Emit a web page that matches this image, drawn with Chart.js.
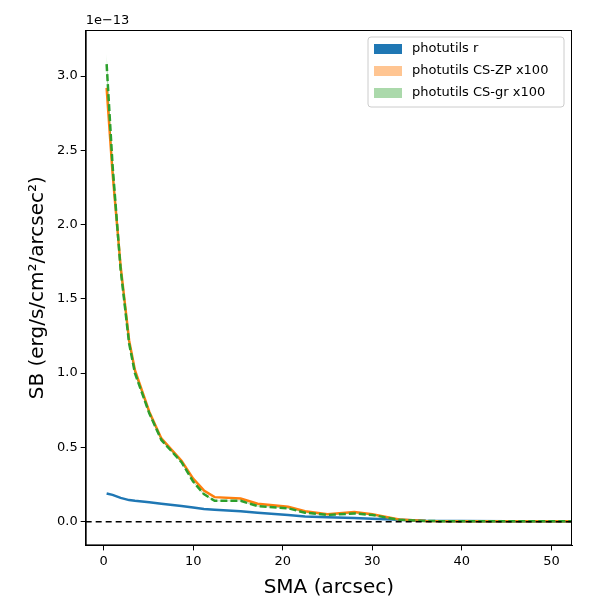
<!DOCTYPE html>
<html>
<head>
<script src="https://cdn.jsdelivr.net/npm/chart.js@4"></script>
<style>body{margin:0;background:#fff}#wrap{width:600px;height:600px}</style>
</head>
<body>
<div id="wrap"><canvas id="c"></canvas></div>
<script>
// values in units of 1e-13
const sma = [0.34, 1.0, 1.9, 2.85, 3.5, 5.1, 6.45, 8.7, 10.0, 11.2, 12.4, 15.3, 17.2, 20.6, 22.5, 25, 28, 30, 33, 36, 40, 45, 50, 52.3];
const blueR = [0.19, 0.18, 0.16, 0.145, 0.14, 0.13, 0.12, 0.105, 0.095, 0.085, 0.08, 0.07, 0.06, 0.045, 0.035, 0.03, 0.025, 0.02, 0.012, 0.006, 0.004, 0.003, 0.003, 0.003];
const orangeZP = [2.92, 2.35, 1.72, 1.22, 1.02, 0.74, 0.56, 0.41, 0.29, 0.21, 0.165, 0.155, 0.12, 0.1, 0.07, 0.05, 0.065, 0.05, 0.015, 0.005, 0.003, 0.002, 0.003, 0.003];
const greenGR = [3.08, 2.4, 1.7, 1.2, 1.0, 0.73, 0.55, 0.40, 0.27, 0.185, 0.14, 0.14, 0.105, 0.09, 0.06, 0.045, 0.055, 0.045, 0.012, 0.004, 0.002, 0.002, 0.002, 0.002];
const greenErr = [0.07, 0.03, 0.02, 0.015, 0.01, 0.008, 0.006, 0.005, 0.004, 0.004, 0.003, 0.003, 0.003, 0.003, 0.002, 0.002, 0.002, 0.002, 0.002, 0.002, 0.002, 0.002, 0.002, 0.002];
const yTicks = [0, 0.5, 1.0, 1.5, 2.0, 2.5, 3.0];
const xTicks = [0, 10, 20, 30, 40, 50];
const legendItems = [
    ['photutils r', '#1f77b4'],
    ['photutils CS-ZP x100', 'rgba(255,127,14,0.45)'],
    ['photutils CS-gr x100', 'rgba(44,160,44,0.4)']
];

const pts = arr => sma.map((x, i) => ({x: x, y: arr[i]}));

const extras = {
    id: 'extras',
    afterDraw(chart) {
        const ctx = chart.ctx, a = chart.chartArea;
        ctx.save();
        // frame
        ctx.strokeStyle = '#000';
        ctx.lineWidth = 1;
        ctx.strokeRect(a.left + 0.5, a.top + 0.5, a.right - a.left - 1, a.bottom - a.top - 1);
        // offset text
        ctx.font = '13px "DejaVu Sans"';
        ctx.fillStyle = '#000';
        ctx.textBaseline = 'bottom';
        ctx.fillText('1e\u221213', a.left, a.top - 3);
        // legend
        const w = 196, h = 70, x0 = a.right - w - 8, y0 = a.top + 7;
        ctx.fillStyle = 'rgba(255,255,255,0.8)';
        ctx.strokeStyle = '#ccc';
        ctx.beginPath();
        ctx.roundRect(x0, y0, w, h, 3);
        ctx.fill();
        ctx.stroke();
        ctx.textBaseline = 'middle';
        legendItems.forEach((it, i) => {
            const yy = y0 + 12 + i * 22;
            ctx.fillStyle = it[1];
            ctx.fillRect(x0 + 6, yy - 5, 28, 10);
            ctx.fillStyle = '#000';
            ctx.fillText(it[0], x0 + 44, yy);
        });
        ctx.restore();
    }
};

const tickGrid = {display: true, drawOnChartArea: false, drawTicks: true, tickLength: 5, color: '#000'};

new Chart(document.getElementById('c'), {
    type: 'line',
    data: {
        datasets: [
            {label: 'photutils r', data: pts(blueR), borderColor: '#1f77b4', borderWidth: 2.5, pointRadius: 0, order: 4},
            {label: 'photutils CS-ZP x100', data: pts(orangeZP), borderColor: '#ff7f0e', borderWidth: 2.5, pointRadius: 0, order: 3},
            {label: 'gr-up', data: pts(greenGR.map((v, i) => v + greenErr[i])), borderColor: 'rgba(0,0,0,0)', pointRadius: 0, fill: false, order: 2},
            {label: 'gr-lo', data: pts(greenGR.map((v, i) => v - greenErr[i])), borderColor: 'rgba(0,0,0,0)', backgroundColor: 'rgba(44,160,44,0.4)', pointRadius: 0, fill: '-1', order: 2},
            {label: 'photutils CS-gr x100', data: pts(greenGR), borderColor: '#2ca02c', borderWidth: 2.5, borderDash: [7, 3], pointRadius: 0, order: 1},
            {label: 'zero', data: [{x: -2, y: 0}, {x: 52.3, y: 0}], borderColor: '#000', borderWidth: 1.5, borderDash: [6, 4], pointRadius: 0, order: 0}
        ]
    },
    options: {
        responsive: true,
        maintainAspectRatio: false,
        animation: false,
        layout: {padding: {left: 22, right: 28, top: 30, bottom: 0}},
        plugins: {
            tooltip: {enabled: false},
            legend: {display: false}
        },
        scales: {
            x: {
                type: 'linear', min: -2, max: 52.3,
                grid: tickGrid,
                border: {color: '#000'},
                afterBuildTicks: s => { s.ticks = xTicks.map(v => ({value: v})); },
                ticks: {color: '#000', font: {family: 'DejaVu Sans', size: 13}, maxRotation: 0},
                title: {display: true, text: 'SMA (arcsec)', color: '#000', font: {family: 'DejaVu Sans', size: 20}, padding: {top: 4, bottom: 0}}
            },
            y: {
                min: -0.16, max: 3.31,
                grid: tickGrid,
                border: {color: '#000'},
                afterBuildTicks: s => { s.ticks = yTicks.map(v => ({value: v})); },
                ticks: {color: '#000', font: {family: 'DejaVu Sans', size: 13}, callback: v => v.toFixed(1)},
                title: {display: true, text: 'SB (erg/s/cm\u00b2/arcsec\u00b2)', color: '#000', font: {family: 'DejaVu Sans', size: 20}}
            }
        }
    },
    plugins: [extras]
});
</script>
</body>
</html>
